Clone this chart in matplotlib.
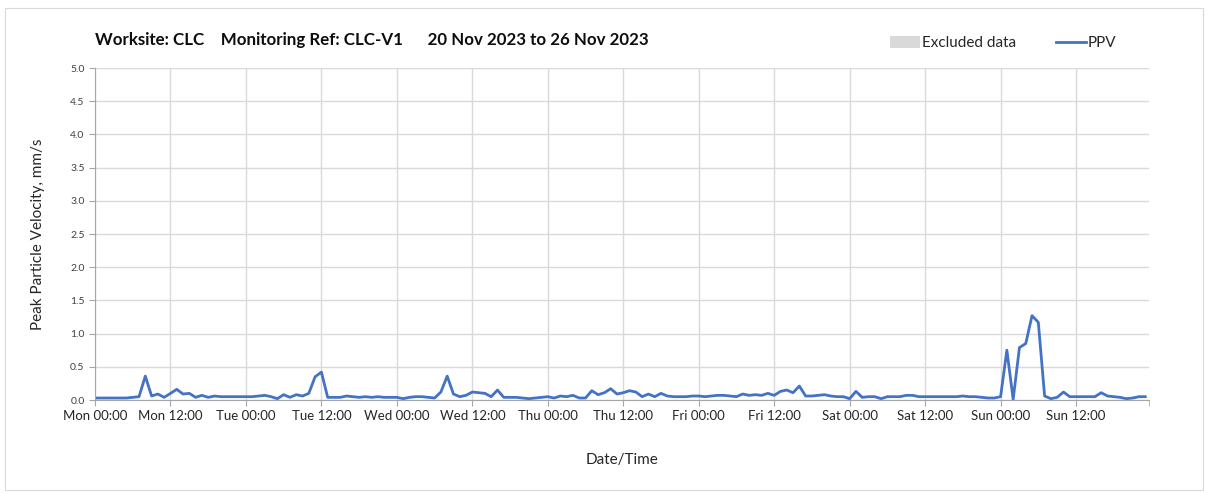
import numpy as np
import matplotlib.pyplot as plt
from matplotlib.patches import Patch, Rectangle
from matplotlib.lines import Line2D

plt.rcParams['font.family'] = ['Lato', 'DejaVu Sans']

# hourly PPV readings (mm/s), 20-26 Nov 2023
mon = [0.03, 0.03, 0.03, 0.03, 0.03, 0.03, 0.04, 0.05, 0.36, 0.06, 0.09, 0.04,
       0.10, 0.16, 0.09, 0.10, 0.04, 0.07, 0.04, 0.06, 0.05, 0.05, 0.05, 0.05]
tue = [0.05, 0.05, 0.06, 0.07, 0.05, 0.02, 0.08, 0.04, 0.08, 0.06, 0.10, 0.35,
       0.42, 0.04, 0.04, 0.04, 0.06, 0.05, 0.04, 0.05, 0.04, 0.05, 0.04, 0.04]
wed = [0.04, 0.02, 0.04, 0.05, 0.05, 0.04, 0.03, 0.12, 0.36, 0.09, 0.05, 0.07,
       0.12, 0.11, 0.10, 0.05, 0.15, 0.04, 0.04, 0.04, 0.03, 0.02, 0.03, 0.04]
thu = [0.05, 0.03, 0.06, 0.05, 0.07, 0.03, 0.03, 0.14, 0.08, 0.11, 0.17, 0.09,
       0.11, 0.14, 0.12, 0.05, 0.09, 0.05, 0.10, 0.06, 0.05, 0.05, 0.05, 0.06]
fri = [0.06, 0.05, 0.06, 0.07, 0.07, 0.06, 0.05, 0.09, 0.07, 0.08, 0.07, 0.10,
       0.07, 0.13, 0.15, 0.11, 0.21, 0.06, 0.06, 0.07, 0.08, 0.06, 0.05, 0.05]
sat = [0.02, 0.13, 0.04, 0.05, 0.05, 0.02, 0.05, 0.05, 0.05, 0.07, 0.07, 0.05,
       0.05, 0.05, 0.05, 0.05, 0.05, 0.05, 0.06, 0.05, 0.05, 0.04, 0.03, 0.03]
sun = [0.05, 0.75, 0.01, 0.79, 0.85, 1.27, 1.17, 0.06, 0.02, 0.04, 0.12, 0.05,
       0.05, 0.05, 0.05, 0.05, 0.11, 0.06, 0.05, 0.04, 0.02, 0.03, 0.05, 0.05]

days = ['Mon', 'Tue', 'Wed', 'Thu', 'Fri', 'Sat', 'Sun']
tick_labels = [f'{d} {t}' for d in days for t in ('00:00', '12:00')]

ppv = mon + tue + wed + thu + fri + sat + sun
hours = np.arange(len(ppv))

fig = plt.figure(figsize=(12.08, 4.93), dpi=100)
ax = fig.add_axes([95 / 1208, 1 - 400 / 493, (1149 - 95) / 1208, (400 - 68) / 493])

# light outer frame
fig.patches.append(Rectangle((5 / 1208, 3 / 493), 1198 / 1208, 482 / 493,
                             transform=fig.transFigure, fill=False,
                             edgecolor='#d9d9d9', linewidth=0.8))

ax.plot(hours, ppv, color='#4472C4', linewidth=2.0, solid_joinstyle='round')

ax.set_xlim(0, 167.6)
ax.set_ylim(0, 5.0)
ax.set_yticks(np.arange(0, 5.01, 0.5))
ax.set_yticklabels([f'{v:.1f}' for v in np.arange(0, 5.01, 0.5)], fontsize=7.5, color='#404040')
ax.set_xticks(np.arange(0, 168, 12))
ax.set_xticklabels(tick_labels, fontsize=9.5, color='#262626')
ax.set_xticks([167.6], minor=True)

ax.grid(True, color='#d9d9d9', linewidth=1.0)
ax.set_axisbelow(True)
for s in ['top', 'right']:
    ax.spines[s].set_visible(False)
for s in ['left', 'bottom']:
    ax.spines[s].set_color('#a6a6a6')
ax.tick_params(axis='both', which='both', color='#a6a6a6', length=4)

ax.set_ylabel('Peak Particle Velocity, mm/s', fontsize=11, color='#262626', labelpad=18)
ax.set_xlabel('Date/Time', fontsize=11, color='#262626', labelpad=22)

fig.text(95 / 1208, 1 - 40 / 493,
         'Worksite: CLC    Monitoring Ref: CLC-V1      20 Nov 2023 to 26 Nov 2023',
         fontsize=12.2, fontweight='bold', va='center', ha='left', color='#0d0d0d')

handles = [Patch(facecolor='#d9d9d9', edgecolor='none'),
           Line2D([0], [0], color='#4472C4', linewidth=2.0)]
fig.legend(handles, ['Excluded data', 'PPV'], ncol=2, frameon=False,
           loc='center left', bbox_to_anchor=(876 / 1208, 1 - 43 / 493),
           fontsize=11, handlelength=2.0, handleheight=0.8, handletextpad=0.1,
           columnspacing=2.6, labelcolor='#262626')

fig.savefig('out.png', dpi=100)
